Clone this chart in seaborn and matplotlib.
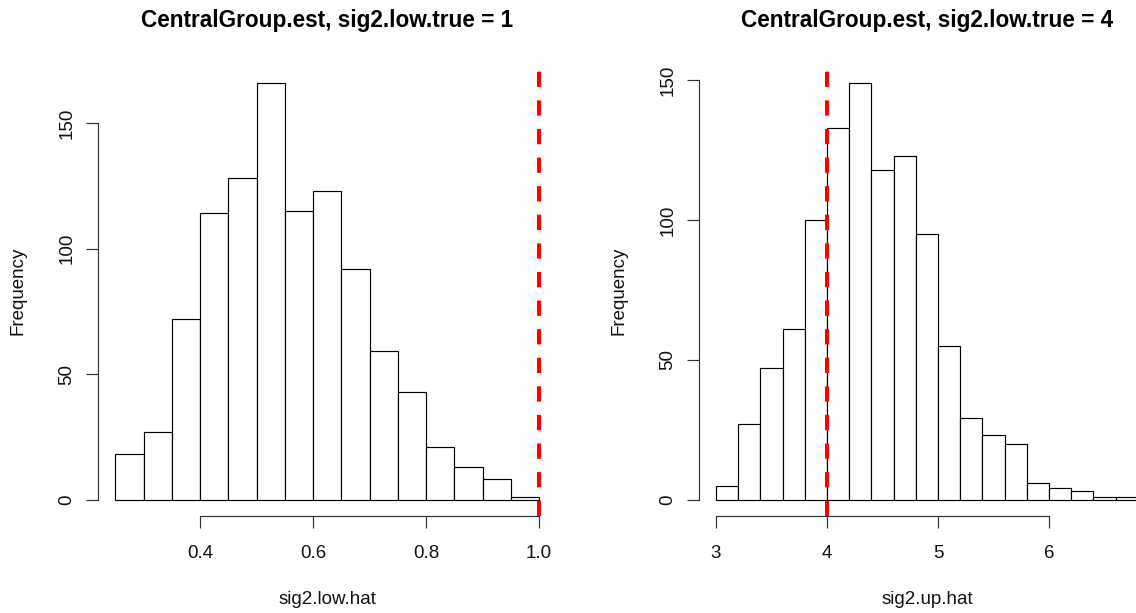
import numpy as np
import pandas as pd
import matplotlib
matplotlib.use("Agg")
import matplotlib.pyplot as plt
import seaborn as sns

# ---- data ----
low_edges = [0.25, 0.30, 0.35, 0.40, 0.45, 0.50, 0.55, 0.60, 0.65, 0.70,
             0.75, 0.80, 0.85, 0.90, 0.95, 1.00]
low_counts = [18, 27, 72, 114, 128, 166, 115, 123, 92, 59, 43, 21, 13, 8, 1]
low_true = 1.0
low_xticks = [0.4, 0.6, 0.8, 1.0]
low_xticklabels = ["0.4", "0.6", "0.8", "1.0"]

up_edges = [3.0, 3.2, 3.4, 3.6, 3.8, 4.0, 4.2, 4.4, 4.6, 4.8, 5.0,
            5.2, 5.4, 5.6, 5.8, 6.0, 6.2, 6.4, 6.6, 6.8]
up_counts = [5, 27, 47, 61, 100, 133, 149, 118, 123, 95, 55, 29, 23, 20,
             6, 4, 3, 1, 1]
up_true = 4.0
up_xticks = [3, 4, 5, 6]
up_xticklabels = ["3", "4", "5", "6"]

yticks = [0, 50, 100, 150]
yticklabels = ["0", "50", "100", "150"]

titles = ["CentralGroup.est, sig2.low.true = 1",
          "CentralGroup.est, sig2.low.true = 4"]
xlabels = ["sig2.low.hat", "sig2.up.hat"]
ylabel = "Frequency"

# ---- style ----
sns.set_style("white")
plt.rcParams['font.family'] = ['Liberation Sans', 'DejaVu Sans']

W, H = 1136, 613
fig = plt.figure(figsize=(W / 100, H / 100), dpi=100)


def px_axes(x0, x1, y_top, y_bot):
    return fig.add_axes([x0 / W, 1 - y_bot / H, (x1 - x0) / W, (y_bot - y_top) / H])


def r_limits(lo, hi):
    ext = 0.04 * (hi - lo)
    return lo - ext, hi + ext


panels = [
    (low_edges, low_counts, low_true, low_xticks, low_xticklabels, 98.3, 556.0),
    (up_edges, up_counts, up_true, up_xticks, up_xticklabels, 699.0, 1154.7),
]

for i, (edges, counts, true_val, xt, xtl, x0, x1) in enumerate(panels):
    ax = px_axes(x0, x1, 66.2, 516.2)
    df = pd.DataFrame({
        "x": [(edges[k] + edges[k + 1]) / 2 for k in range(len(counts))],
        "w": counts,
    })
    sns.histplot(data=df, x="x", weights="w", bins=edges, ax=ax,
                 color="white", edgecolor="black", linewidth=0.85,
                 alpha=1.0, legend=False)
    ax.set_xlim(*r_limits(edges[0], edges[-1]))
    ax.set_ylim(*r_limits(0, max(counts)))
    ax.axvline(true_val, color="#ff0000", linewidth=2.9,
               linestyle=(0, (3.8, 3.3)), zorder=5)

    for s in ["top", "right"]:
        ax.spines[s].set_visible(False)
    ax.spines["left"].set_bounds(yticks[0], yticks[-1])
    ax.spines["bottom"].set_bounds(xt[0], xt[-1])
    for s in ["left", "bottom"]:
        ax.spines[s].set_color("#333333")
        ax.spines[s].set_linewidth(0.85)

    ax.set_xticks(xt)
    ax.set_xticklabels(xtl)
    ax.set_yticks(yticks)
    ax.set_yticklabels(yticklabels, rotation=90, va="center")
    ax.tick_params(axis="both", which="major", direction="out", length=8.4,
                   width=0.85, color="#333333", labelsize=13.5,
                   labelcolor="#111111", bottom=True, left=True)
    ax.tick_params(axis="x", pad=12)
    ax.tick_params(axis="y", pad=8)

    ax.set_title(titles[i], fontsize=16.3, fontweight="bold", pad=28,
                 color="black")
    ax.set_xlabel(xlabels[i], fontsize=13.5, color="#111111")
    ax.xaxis.set_label_coords(0.5, (516.2 - 599) / 450.0)
    ax.xaxis.label.set_va("center")
    ax.set_ylabel(ylabel, fontsize=13.5, color="#111111")
    ax.yaxis.set_label_coords(-80.0 / (x1 - x0), 0.5)
    ax.yaxis.label.set_va("center")
    ax.grid(False)
    ax.set_facecolor("none")

fig.savefig("out.png", dpi=100, facecolor="white")
